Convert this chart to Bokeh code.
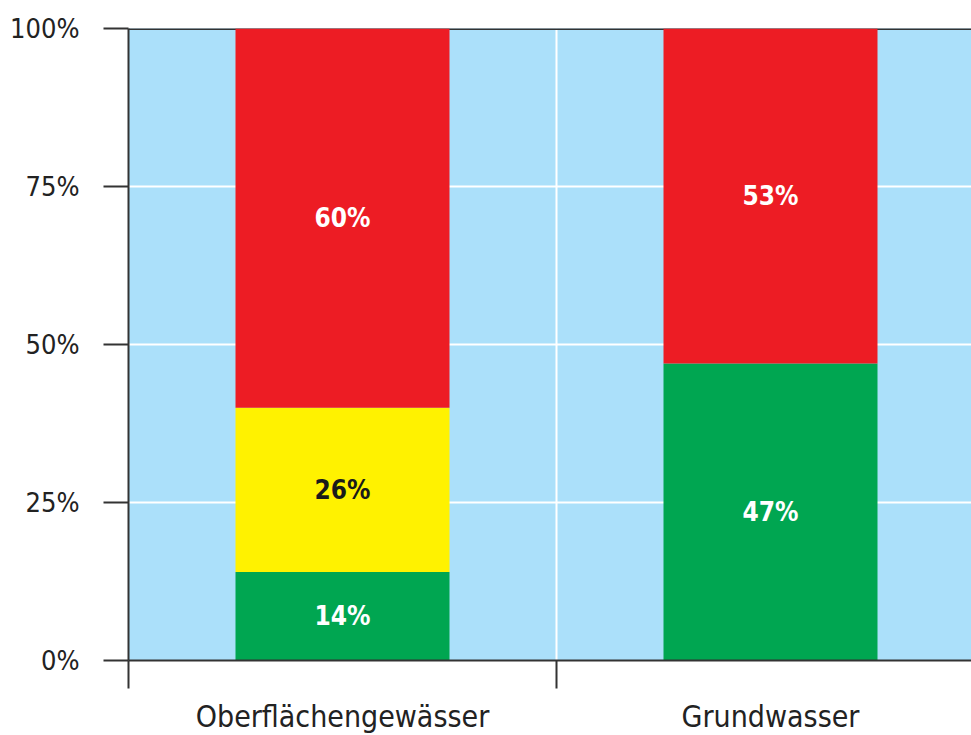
from bokeh.plotting import figure
from bokeh.models import ColumnDataSource, Range1d, FixedTicker, Span
from bokeh.core.properties import value
from bokeh.embed import file_html
from bokeh.resources import INLINE

# Anteil der Wasserkörper je Zustandsklasse
categories = ["Oberflächengewässer", "Grundwasser"]
gut = [14, 47]
mittel = [26, 0]
schlecht = [60, 53]
y_ticks = [0, 25, 50, 75, 100]
y_tick_labels = ["0%", "25%", "50%", "75%", "100%"]

GREEN = "#00a651"
YELLOW = "#fff200"
RED = "#ed1c24"
BG = "#abe0fa"
AXIS = "#333333"
FONT = "'DejaVu Sans Condensed', 'Open Sans', sans-serif"

xpos = [i + 0.5 for i in range(len(categories))]

p = figure(
    frame_width=843, frame_height=632,
    x_range=Range1d(0, 843 / 428), y_range=Range1d(0, 100),
    output_backend="svg", toolbar_location=None,
    min_border_left=128, min_border_right=0,
    min_border_top=28, min_border_bottom=75,
)
p.background_fill_color = BG
p.border_fill_color = "white"
p.outline_line_color = None

# white grid, dark line at 100 %
p.ygrid.ticker = FixedTicker(ticks=[25, 50, 75])
p.ygrid.grid_line_color = "white"
p.ygrid.grid_line_width = 2
p.xgrid.ticker = FixedTicker(ticks=[1])
p.xgrid.grid_line_color = "white"
p.xgrid.grid_line_width = 2
p.add_layout(Span(location=100, dimension="width", line_color=AXIS,
                  line_width=3, level="underlay"))

src = ColumnDataSource(dict(x=xpos, gut=gut, mittel=mittel, schlecht=schlecht))
p.vbar_stack(["gut", "mittel", "schlecht"], x="x", width=0.5, source=src,
             color=[GREEN, YELLOW, RED], line_color=None)

# percentage labels in the middle of each segment
lx, ly, lt, lc = [], [], [], []
for i, x in enumerate(xpos):
    base = 0
    for vals, col in ((gut, "white"), (mittel, "#1a1a1a"), (schlecht, "white")):
        v = vals[i]
        if v > 0:
            lx.append(x)
            ly.append(base + v / 2)
            lt.append(f"{v}%")
            lc.append(col)
        base += v
p.text(x=lx, y=ly, text=lt, text_color=lc, text_align="center",
       text_baseline="middle", text_font=value(FONT), text_font_style="bold",
       text_font_size="26px")

# y axis
p.yaxis.ticker = FixedTicker(ticks=y_ticks)
p.yaxis.major_label_overrides = {t: l for t, l in zip(y_ticks, y_tick_labels)}
p.yaxis.axis_line_color = AXIS
p.yaxis.axis_line_width = 2
p.yaxis.major_tick_line_color = AXIS
p.yaxis.major_tick_line_width = 2
p.yaxis.major_tick_out = 25
p.yaxis.major_tick_in = 0
p.yaxis.minor_tick_line_color = None
p.yaxis.major_label_standoff = 24
p.yaxis.major_label_text_font = FONT
p.yaxis.major_label_text_font_size = "27px"
p.yaxis.major_label_text_color = "#222222"

# x axis: labels at bar centres, tick marks at category boundaries
p.xaxis.ticker = FixedTicker(ticks=xpos, minor_ticks=[0, 1, 2])
p.xaxis.major_label_overrides = {x: c for x, c in zip(xpos, categories)}
p.xaxis.axis_line_color = AXIS
p.xaxis.axis_line_width = 2
p.xaxis.major_tick_line_color = None
p.xaxis.major_tick_out = 0
p.xaxis.major_tick_in = 0
p.xaxis.minor_tick_line_color = AXIS
p.xaxis.minor_tick_line_width = 2
p.xaxis.minor_tick_out = 28
p.xaxis.minor_tick_in = 0
p.xaxis.major_label_standoff = 10
p.xaxis.major_label_text_font = FONT
p.xaxis.major_label_text_font_size = "30px"
p.xaxis.major_label_text_color = "#222222"

open("out.html", "w").write(file_html(p, INLINE))
